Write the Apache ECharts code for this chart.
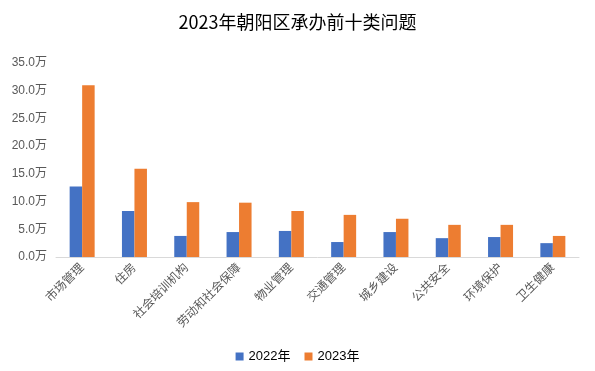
<!DOCTYPE html>
<html><head><meta charset="utf-8">
<script src="https://cdn.jsdelivr.net/npm/echarts@6/dist/echarts.min.js"></script>
<style>html,body{margin:0;padding:0;background:#fff}#c{width:595px;height:371px}</style>
</head><body><div id="c"></div>
<script>
const categories = ['市场管理','住房','社会培训机构','劳动和社会保障','物业管理','交通管理','城乡建设','公共安全','环境保护','卫生健康'];
const values2022 = [12.7, 8.3, 3.8, 4.5, 4.7, 2.7, 4.5, 3.4, 3.6, 2.5];
const values2023 = [31.0, 15.9, 9.9, 9.8, 8.3, 7.6, 6.9, 5.8, 5.8, 3.8];
const seriesNames = ['2022年','2023年'];
const yTicks = {min: 0, max: 35, interval: 5};

const chart = echarts.init(document.getElementById('c'), null, {renderer:'canvas'});
const font = '"Liberation Sans","Noto Sans CJK SC",sans-serif';
chart.setOption({
  animation:false,
  title:{text:'2023年朝阳区承办前十类问题',left:'center',top:8,
    textStyle:{fontFamily:'"Noto Sans CJK SC",sans-serif',fontSize:18,fontWeight:'normal',color:'#000'}},
  legend:{bottom:3,left:'center',itemWidth:8,itemHeight:8,itemGap:14,icon:'rect',
    textStyle:{fontFamily:font,fontSize:13,color:'#000'}},
  grid:{left:56,right:16,top:63,bottom:114},
  xAxis:{type:'category',data:categories,
    axisLine:{lineStyle:{color:'#d9d9d9',width:1}},axisTick:{show:false},
    axisLabel:{rotate:45,interval:0,fontFamily:font,fontSize:12,color:'#595959',margin:9}},
  yAxis:{type:'value',min:yTicks.min,max:yTicks.max,interval:yTicks.interval,
    splitLine:{show:false},axisLine:{show:false},axisTick:{show:false},
    axisLabel:{fontFamily:font,fontSize:12,color:'#595959',margin:9,formatter:v=>v.toFixed(1)+'万'}},
  series:[
    {name:seriesNames[0],type:'bar',data:values2022,itemStyle:{color:'#4472c4'},barWidth:12.5,barGap:'0%'},
    {name:seriesNames[1],type:'bar',data:values2023,itemStyle:{color:'#ed7d31'},barWidth:12.5,barGap:'0%'}
  ]
});
</script></body></html>
